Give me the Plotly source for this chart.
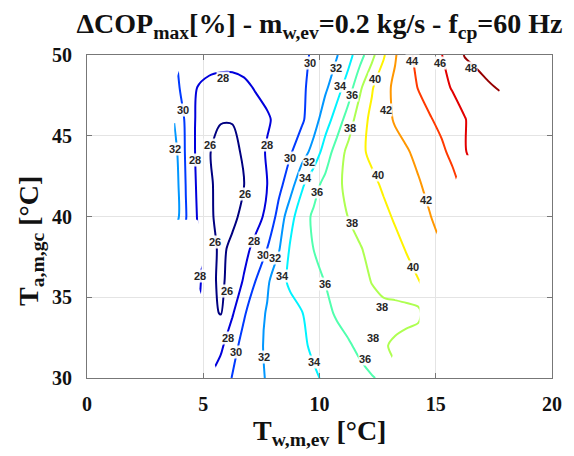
import plotly.graph_objects as go

# Evaporator water mean temperature (x) and gas-cooler air mean temperature (y) grid
T_w = [3.75, 4.25, 4.75, 5.25, 5.75, 6.25, 6.75, 7.25, 7.75, 8.25,
       8.75, 9.25, 9.75, 10.25, 10.75, 11.25, 11.75, 12.25, 12.75, 13.25,
       13.75, 14.25, 14.75, 15.25, 15.75, 16.25, 16.75, 17.25, 17.75]
T_a = [30, 32, 34, 36, 38, 40, 42, 44, 46, 48, 50]

N = None
# Maximum COP improvement [%], one row per T_a value (None = outside the tested range)
dcop_30 = [N, N, N, N, 29.0, 30.07, 30.79, 31.5, 32.13, 32.54, 32.96, 33.38, 33.79, 34.21,
           34.63, 35.04, 35.46, 35.88, 36.3, N, N, N, N, N, N, N, N, N, N]
dcop_32 = [N, N, N, 27.0, 27.6, 29.33, 30.64, 31.55, 32.25, 32.75, 33.25, 33.75, 34.26, 34.77,
           35.28, 35.8, 36.41, 37.1, 37.8, 38.3, 38.8, 39.2, N, N, N, N, N, N, N]
dcop_34 = [N, N, N, 26.6, 25.9, 27.8, 29.8, 31.12, 32.18, 32.76, 33.35, 33.94, 34.72, 35.52,
           36.22, 36.75, 37.2, 37.5, 37.5, 37.3, 37.3, 37.5, N, N, N, N, N, N, N]
dcop_36 = [N, N, 28.6, 26.6, 25.6, 26.8, 28.18, 30.02, 31.67, 33.33, 34.34, 34.91, 35.49, 36.05,
           36.55, 37.05, 37.55, 38.05, 38.52, 39.0, 39.48, 39.95, N, N, N, N, N, N, N]
dcop_38 = [N, N, N, 26.8, 25.6, 26.4, 27.4, 28.57, 30.02, 31.82, 34.26, 35.13, 36.02, 36.48,
           36.95, 37.43, 37.9, 38.44, 39.0, 39.56, 40.1, 40.6, 41.2, N, N, N, N, N, N]
dcop_40 = [33.3, 30.1, 27.9, 26.3, 25.5, 25.6, 26.45, 27.3, 28.44, 30.67, 33.33, 35.23, 36.29, 36.88,
           37.47, 38.05, 38.58, 39.1, 39.63, 40.18, 40.76, 41.35, 41.94, 42.6, 43.2, N, N, N, N]
dcop_42 = [33.2, 29.95, 27.7, 26.3, 25.4, 25.2, 25.98, 27.0, 27.98, 29.43, 31.1, 33.67, 35.3, 36.56,
           37.67, 38.42, 39.03, 39.64, 40.22, 40.76, 41.3, 41.84, 42.46, 43.0, 43.5, N, N, N, N]
dcop_44 = [32.8, 29.75, 27.55, 26.1, 25.4, 25.4, 26.3, 27.24, 28.17, 28.98, 29.83, 31.07, 32.75, 34.9,
           36.9, 38.55, 39.67, 40.35, 40.85, 41.35, 41.85, 42.42, 43.03, 43.64, 44.53, 45.87, 46.8, N, N]
dcop_46 = [31.9, 29.7, 27.6, 26.6, 26.1, 26.1, 26.6, 27.2, 27.8, 28.45, 29.1, 29.75, 31.1, 33.1,
           34.9, 36.98, 39.17, 40.45, 41.35, 42.17, 42.7, 43.3, 43.85, 44.5, 45.2, 45.93, 46.6, 47.2, N]
dcop_48 = [30.6, 29.3, 27.98, 27.5, 27.3, 27.3, 27.6, 28.15, 28.5, 28.9, 29.35, 29.75, 30.5, 31.65,
           33.2, 34.98, 37.67, 39.8, 41.3, 42.4, 43.25, 44.07, 44.8, 45.5, 46.17, 46.7, 47.3, 47.85, 48.1]
dcop_50 = [N, 29.6, 29.2, 28.9, 28.8, 28.8, 28.9, 29.0, 29.1, 29.3, 29.5, 29.7, 30.2, 31.0,
           31.9, 33.3, 35.25, 37.4, 39.75, 41.8, 43.5, 44.5, 45.2, 45.95, 47.0, 48.1, 48.5, 48.6, 48.5]

dcop = [dcop_30, dcop_32, dcop_34, dcop_36, dcop_38, dcop_40,
        dcop_42, dcop_44, dcop_46, dcop_48, dcop_50]

# Contour levels
level_start, level_end, level_step = 26, 48, 2

# In-line contour labels: the level each one names and where it sits on its isoline
label_level = [28, 30, 32, 28, 26, 28, 30, 32, 34, 36, 40, 44, 46, 48, 42, 38,
               26, 30, 32, 34, 36, 40, 42, 26, 28, 30, 32, 34, 36, 38, 40,
               28, 26, 38, 38, 28, 30, 32, 34, 36]
label_at_x = [5.83, 4.13, 3.8, 4.64, 5.28, 7.74, 9.6, 10.7, 10.9, 11.4, 12.4, 14.0, 15.2, 16.5, 12.85, 11.3,
              6.8, 8.75, 9.55, 9.4, 9.9, 12.5, 14.6, 5.5, 7.2, 7.55, 8.1, 8.4, 10.25, 11.4, 14.0,
              4.85, 6.04, 12.7, 12.3, 6.05, 6.4, 7.6, 9.8, 11.95]
label_at_y = [48.6, 46.6, 44.2, 43.5, 44.4, 44.4, 49.5, 49.2, 48.1, 47.5, 48.5, 49.6, 49.5, 49.2, 46.6, 45.5,
              41.4, 43.6, 43.4, 42.4, 41.5, 42.6, 41.0, 38.4, 38.5, 37.6, 37.4, 36.3, 35.8, 39.6, 36.9,
              36.3, 35.4, 34.4, 32.5, 32.5, 31.6, 31.3, 31.0, 31.2]

x_ticks = [0, 5, 10, 15, 20]
y_ticks = [30, 35, 40, 45, 50]

# MATLAB-style jet colormap
jet = [[0.0, "rgb(0,0,128)"], [0.125, "rgb(0,0,255)"], [0.375, "rgb(0,255,255)"],
       [0.625, "rgb(255,255,0)"], [0.875, "rgb(255,0,0)"], [1.0, "rgb(150,0,0)"]]

serif = "Liberation Serif"

fig = go.Figure(go.Contour(
    x=T_w, y=T_a, z=dcop,
    connectgaps=False,
    colorscale=jet, zmin=level_start, zmax=level_end, showscale=False,
    contours=dict(start=level_start, end=level_end, size=level_step,
                  coloring="lines", showlabels=False),
    line=dict(width=2, smoothing=0.8),
    hoverinfo="skip",
))

axis_common = dict(
    showgrid=True, gridcolor="#e4e4e4", gridwidth=1,
    zeroline=False, showline=True, linecolor="#777", linewidth=1, mirror="ticks",
    ticks="inside", ticklen=5, tickcolor="#777",
    tickfont=dict(family=serif, size=20, color="#111", weight="bold"),
)

fig.update_xaxes(range=[0, 20], tickvals=x_ticks, ticklabelstandoff=8, **axis_common)
fig.update_yaxes(range=[30, 50], tickvals=y_ticks, ticklabelstandoff=10, **axis_common)

# Horizontal level labels with a white backing that opens a gap in the isoline
annotations = [
    dict(x=lx, y=ly, xref="x", yref="y", text=str(lv), showarrow=False,
         xanchor="center", yanchor="middle", bgcolor="rgba(255,255,255,0.92)", borderpad=0,
         font=dict(family="Liberation Sans", size=11, color="#262626", weight="bold"))
    for lv, lx, ly in zip(label_level, label_at_x, label_at_y)
]

annotations += [
    dict(text="T<sub>w,m,ev</sub> [°C]", xref="paper", yref="paper",
         x=0.5, y=-0.17, xanchor="center", yanchor="middle", showarrow=False,
         font=dict(family=serif, size=28, color="#111", weight="bold")),
    dict(text="T<sub>a,m,gc</sub> [°C]", xref="paper", yref="paper",
         x=-0.12, y=0.425, xanchor="center", yanchor="middle", showarrow=False,
         textangle=-90,
         font=dict(family=serif, size=28, color="#111", weight="bold")),
]

fig.update_layout(
    width=574, height=456,
    margin=dict(l=87, r=17, t=55, b=78),
    paper_bgcolor="white", plot_bgcolor="white",
    title=dict(
        text="ΔCOP<sub>max</sub>[%] - m<sub>w,ev</sub>=0.2 kg/s - f<sub>cp</sub>=60 Hz",
        x=0.5, xref="paper", xanchor="center",
        y=0.97, yref="container", yanchor="top",
        font=dict(family=serif, size=28, color="#111", weight="bold"),
    ),
    annotations=annotations,
)

fig.write_html("out.html")
